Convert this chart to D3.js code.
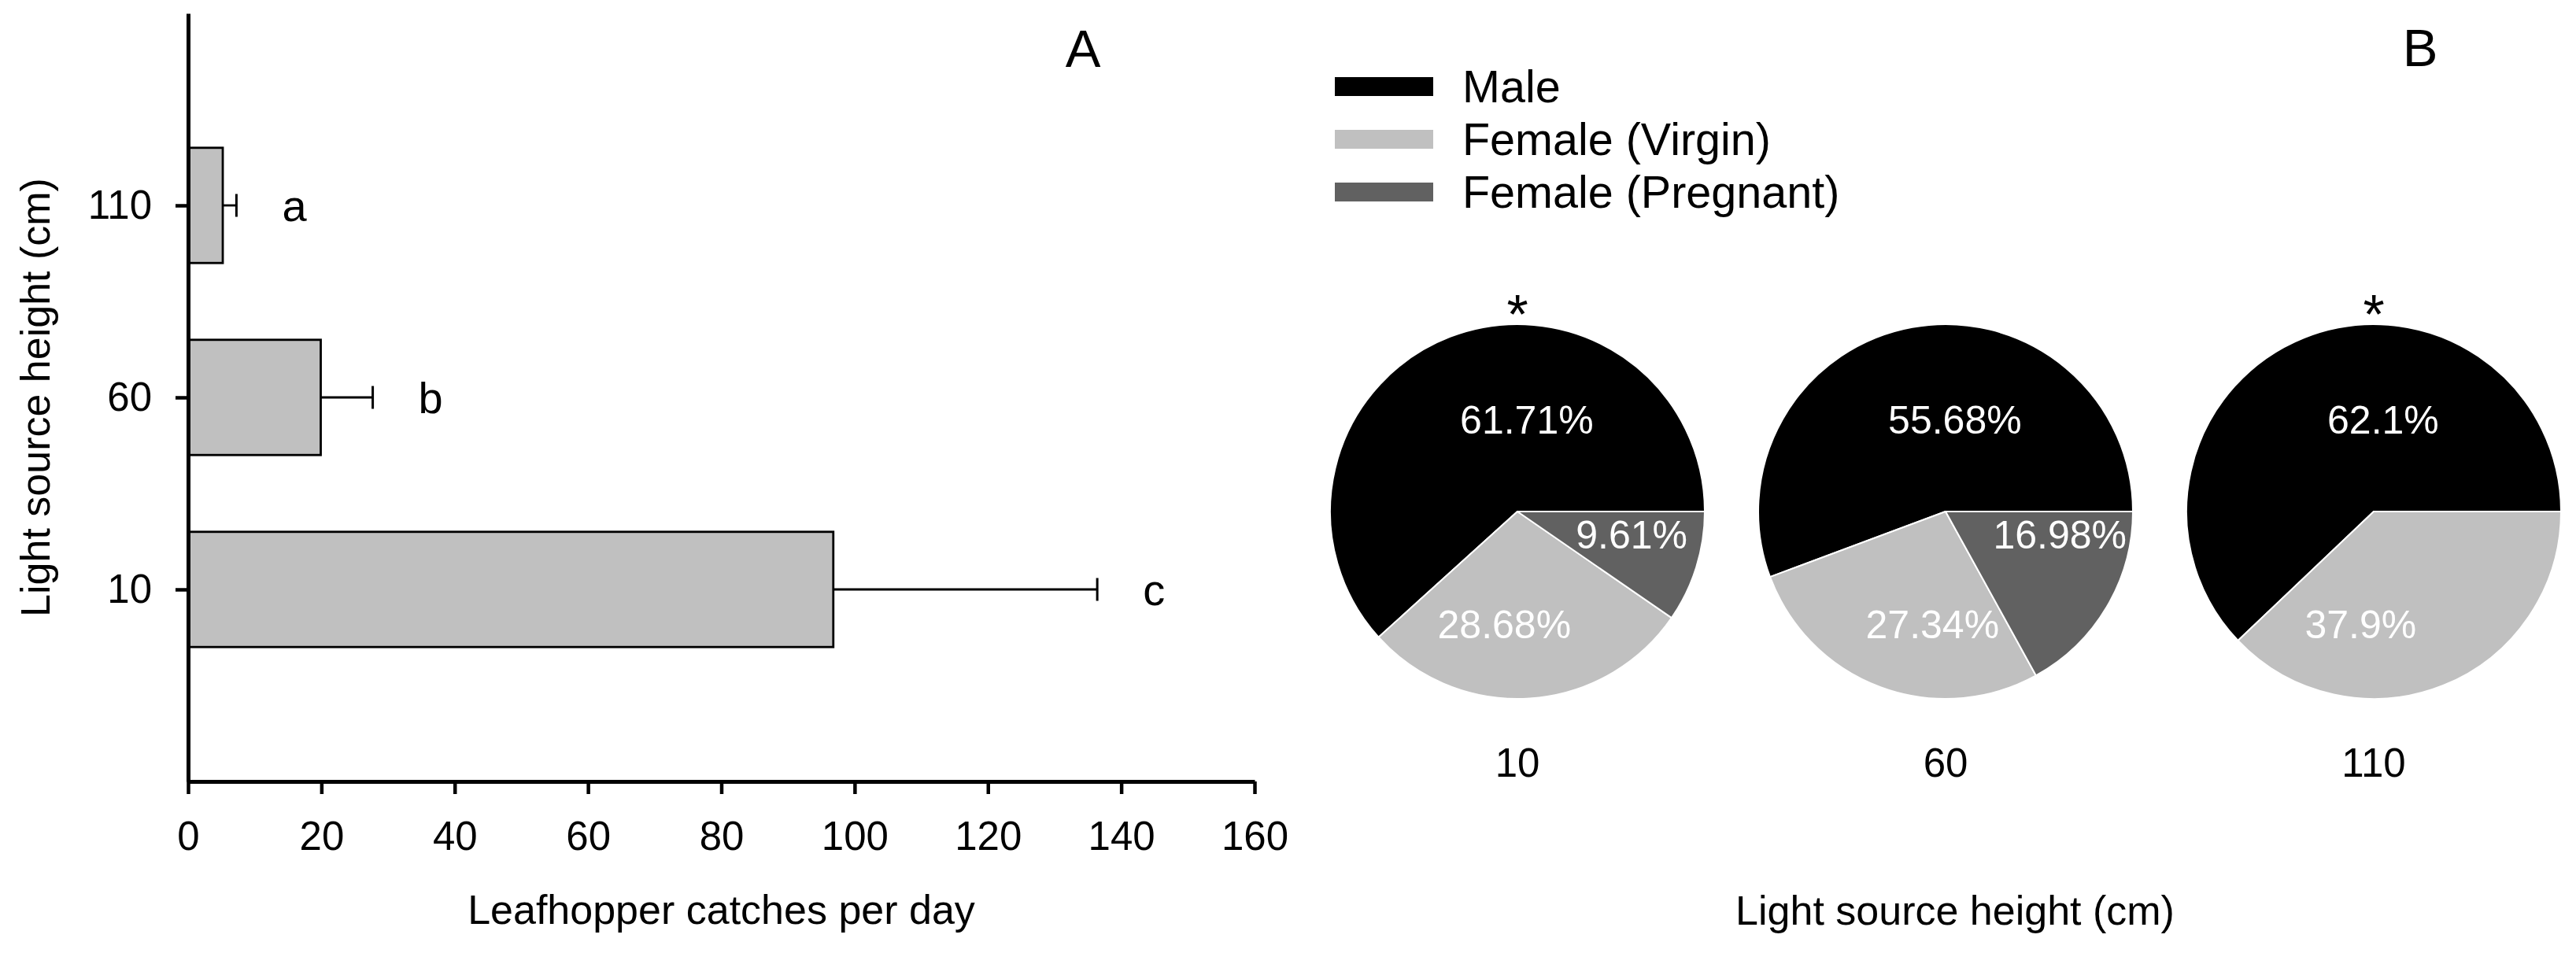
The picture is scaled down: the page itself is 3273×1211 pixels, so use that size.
<!DOCTYPE html>
<html>
<head>
<meta charset="utf-8">
<script src="https://cdn.jsdelivr.net/npm/d3@7.9.0/dist/d3.min.js"></script>
<style>
  body { margin: 0; background: #fff; }
  svg { display: block; font-family: "Liberation Sans", Arial, sans-serif; }
</style>
</head>
<body>
<svg id="chart" width="3273" height="1211"></svg>
<script>
// --- Panel A: catches per day by light height ---
const heights = ["10", "60", "110"];
const catches = [96.8, 19.9, 5.2];
const catchesErr = [39.6, 7.8, 2.05];
const letters = ["c", "b", "a"];
const xTicks = [0, 20, 40, 60, 80, 100, 120, 140, 160];

// --- Panel B: sex composition (%) by light height ---
const sexGroups = ["Male", "Female (Virgin)", "Female (Pregnant)"];
const male = [61.71, 55.68, 62.1];
const femaleVirgin = [28.68, 27.34, 37.9];
const femalePregnant = [9.61, 16.98, 0];
const significance = ["*", "", "*"];

const svg = d3.select("#chart");
svg.append("rect").attr("width", 3273).attr("height", 1211).attr("fill", "#fff");

// ---------- Panel A ----------
const x = d3.scaleLinear().domain([0, 160]).range([239, 1594]);
const y = d3.scalePoint().domain(heights).range([993, 17]).padding(1);
const barH = y.step() * 0.6;

const gA = svg.append("g");

gA.selectAll("rect.bar")
  .data(heights)
  .join("rect")
  .attr("class", "bar")
  .attr("x", x(0))
  .attr("y", d => y(d) - barH / 2)
  .attr("width", (d, i) => x(catches[i]) - x(0))
  .attr("height", barH)
  .attr("fill", "#c0c0c0")
  .attr("stroke", "#000")
  .attr("stroke-width", 2.8);

// error bars (upper side only)
const err = gA.selectAll("g.err").data(heights).join("g").attr("class", "err");
err.append("line")
  .attr("x1", (d, i) => x(catches[i]))
  .attr("x2", (d, i) => x(catches[i] + catchesErr[i]))
  .attr("y1", d => y(d)).attr("y2", d => y(d))
  .attr("stroke", "#000").attr("stroke-width", 2.8);
err.append("line")
  .attr("x1", (d, i) => x(catches[i] + catchesErr[i]))
  .attr("x2", (d, i) => x(catches[i] + catchesErr[i]))
  .attr("y1", d => y(d) - 14.5).attr("y2", d => y(d) + 14.5)
  .attr("stroke", "#000").attr("stroke-width", 3);

gA.selectAll("text.letter")
  .data(heights)
  .join("text")
  .attr("class", "letter")
  .attr("x", (d, i) => x(catches[i] + catchesErr[i]) + 58)
  .attr("y", d => y(d) + 20)
  .attr("font-size", 56)
  .text((d, i) => letters[i]);

// axes
const xAxis = gA.append("g")
  .attr("transform", "translate(0,993)")
  .call(d3.axisBottom(x).tickValues(xTicks).tickSize(16).tickSizeOuter(0).tickPadding(35));
const yAxis = gA.append("g")
  .attr("transform", `translate(${x(0)},0)`)
  .call(d3.axisLeft(y).tickSize(16).tickSizeOuter(0).tickPadding(30));

[xAxis, yAxis].forEach(ax => {
  ax.select(".domain").attr("stroke", "#000").attr("stroke-width", 5);
  ax.selectAll(".tick line").attr("stroke", "#000").attr("stroke-width", 4.5);
  ax.selectAll(".tick text")
    .attr("font-size", 51)
    .attr("fill", "#000")
    .attr("font-family", "Liberation Sans, Arial, sans-serif");
});

gA.append("text")
  .attr("x", (x(0) + x(160)) / 2)
  .attr("y", 1174)
  .attr("text-anchor", "middle")
  .attr("font-size", 52)
  .text("Leafhopper catches per day");

gA.append("text")
  .attr("transform", "translate(63,505) rotate(-90)")
  .attr("text-anchor", "middle")
  .attr("font-size", 52)
  .text("Light source height (cm)");

gA.append("text")
  .attr("x", 1376).attr("y", 85)
  .attr("text-anchor", "middle")
  .attr("font-size", 67)
  .text("A");

// ---------- Panel B ----------
const colors = d3.scaleOrdinal().domain(sexGroups).range(["#000000", "#c0c0c0", "#616161"]);
const cx = d3.scalePoint().domain(heights).range([1928, 3016]);
const cy = 650;
const r = 238;

const pie = d3.pie()
  .sort(null)
  .value(d => d.value)
  .startAngle(Math.PI / 2)
  .endAngle(Math.PI / 2 - 2 * Math.PI);
const arc = d3.arc().innerRadius(0).outerRadius(r);

// label spot inside each slice, relative to radius
const labelSpot = {
  "Male": [0.05, -0.49],
  "Female (Virgin)": [-0.07, 0.6],
  "Female (Pregnant)": [0.61, 0.12]
};

const gB = svg.append("g");

heights.forEach((h, i) => {
  const vals = [male[i], femaleVirgin[i], femalePregnant[i]]
    .map((v, k) => ({ key: sexGroups[k], value: v }));
  const g = gB.append("g").attr("transform", `translate(${cx(h)},${cy})`);

  g.selectAll("path")
    .data(pie(vals).filter(d => d.data.value > 0))
    .join("path")
    .attr("d", arc)
    .attr("fill", d => colors(d.data.key))
    .attr("stroke", "#fff")
    .attr("stroke-width", 2)
    .attr("stroke-linejoin", "round");

  g.selectAll("text.pct")
    .data(vals.filter(d => d.value > 0))
    .join("text")
    .attr("class", "pct")
    .attr("x", d => labelSpot[d.key][0] * r)
    .attr("y", d => labelSpot[d.key][1] * r + 18)
    .attr("text-anchor", "middle")
    .attr("font-size", 50)
    .attr("fill", "#fff")
    .text(d => d.value + "%");

  if (significance[i]) {
    g.append("text")
      .attr("x", 0)
      .attr("y", -r + 12)
      .attr("text-anchor", "middle")
      .attr("font-size", 70)
      .text(significance[i]);
  }

  gB.append("text")
    .attr("x", cx(h))
    .attr("y", 987)
    .attr("text-anchor", "middle")
    .attr("font-size", 51)
    .text(h);
});

// legend
const legend = gB.selectAll("g.leg")
  .data(sexGroups)
  .join("g")
  .attr("class", "leg")
  .attr("transform", (d, i) => `translate(1696,${110 + i * 67})`);
legend.append("rect")
  .attr("x", 0).attr("y", -12)
  .attr("width", 125).attr("height", 24)
  .attr("fill", d => colors(d));
legend.append("text")
  .attr("x", 162).attr("y", 20)
  .attr("font-size", 57.5)
  .text(d => d);

gB.append("text")
  .attr("x", 2484).attr("y", 1175)
  .attr("text-anchor", "middle")
  .attr("font-size", 52)
  .text("Light source height (cm)");

gB.append("text")
  .attr("x", 3075).attr("y", 84)
  .attr("text-anchor", "middle")
  .attr("font-size", 67)
  .text("B");
</script>
</body>
</html>
